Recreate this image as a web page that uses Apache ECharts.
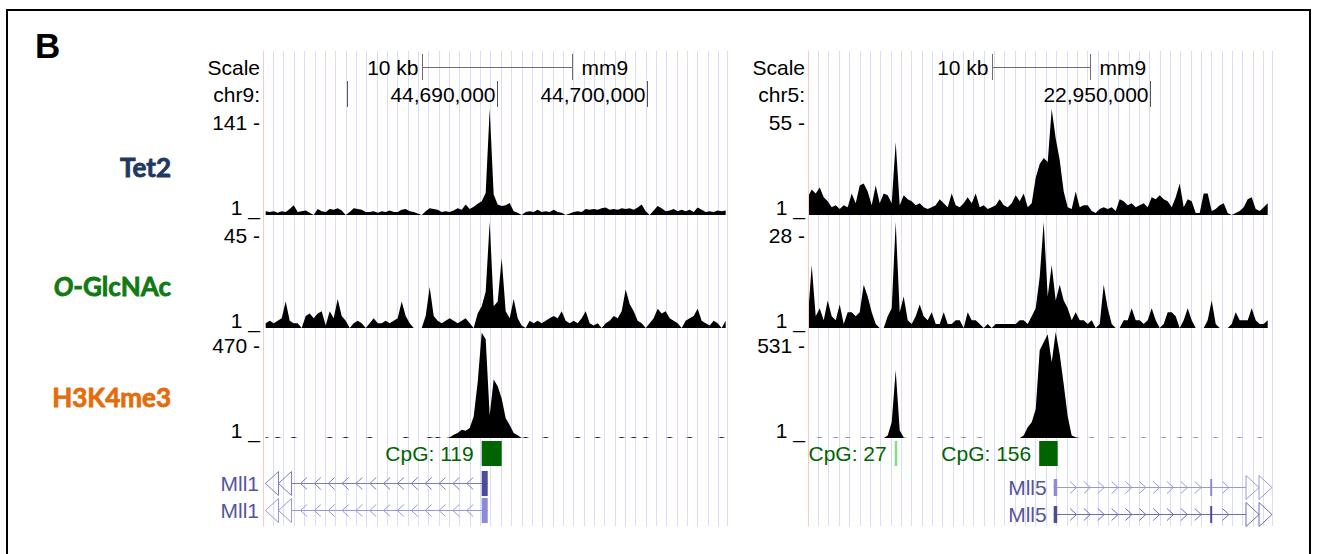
<!DOCTYPE html>
<html>
<head>
<meta charset="utf-8">
<script src="https://cdn.jsdelivr.net/npm/echarts@6/dist/echarts.min.js"></script>
<style>
html,body{margin:0;padding:0;background:#ffffff;}
#chart{width:1317px;height:554px;}
</style>
</head>
<body>
<div id="chart"></div>
<script>
// ================= DATA =================
const panelLetter = 'B';
const trackNames = ['Tet2', 'O-GlcNAc', 'H3K4me3'];
const trackItalicPrefix = ['', 'O', ''];
const scaleTitle = 'Scale';
const scaleLabel = '10 kb';
const assembly = 'mm9';

// ---- left locus (chr9) ----
const leftChrom = 'chr9:';
const leftRange = [44674400, 44705293];
const leftTicks = [44680000, 44690000, 44700000];
const leftTickLabels = ['', '44,690,000', '44,700,000'];
const leftScaleBar = [44685033, 44695033];
const leftMax = [141, 45, 470];
const leftBinStart = 44674580;
const leftBinSize = 266.3;
const leftTet2 = [
  6,5,6,4,6,5,9,14,5,6,
  7,4,1,9,6,5,9,8,10,7,
  1,5,10,9,8,5,5,6,4,6,
  5,7,5,5,8,9,6,5,3,1,
  6,10,9,8,5,6,5,7,10,8,
  15,9,12,16,19,30,141,28,15,13,
  14,17,6,4,1,5,6,5,8,5,
  6,5,8,5,4,1,3,5,6,5,
  9,8,9,8,10,11,8,9,8,10,
  9,10,8,11,15,6,1,7,13,10,
  6,7,9,6,8,6,8,5,11,8,
  5,6,5,7,6,7
];
const leftGlcNAc = [
  3,4,3,4,5,12,4,3,3,1,
  6,7,5,7,8,2,8,5,13,6,
  4,1,3,4,3,1,3,5,3,3,
  4,3,4,5,12,6,3,1,1,1,
  6,18,6,4,3,4,5,4,3,4,
  5,3,1,7,10,16,45,10,12,30,
  8,5,13,5,2,1,4,3,4,3,
  4,5,6,5,8,4,3,4,3,5,
  8,3,2,3,1,3,4,6,5,8,
  17,11,8,4,3,1,3,5,9,7,
  8,5,4,3,1,4,5,6,9,4,
  3,2,4,3,1,4
];
const leftH3K4me3 = [
  5,1,1,5,1,1,1,5,1,1,
  1,1,1,1,1,1,5,1,1,1,
  5,1,1,1,1,1,5,1,1,1,
  1,1,1,1,1,5,1,1,1,1,
  1,5,1,5,1,1,4,15,23,37,
  33,45,96,248,467,438,100,260,230,176,
  88,59,23,13,1,5,1,1,1,1,
  5,1,1,1,1,1,1,1,5,1,
  1,1,1,5,1,1,1,1,1,5,
  1,1,5,1,1,5,1,1,1,1,
  1,5,1,1,1,1,5,1,1,1,
  1,1,1,1,5,1
];
const leftCpGNames = ['CpG: 119'];
const leftCpGSpans = [[44688961, 44690293]];
const leftCpGShade = ['high'];
const leftGeneNames = ['Mll1', 'Mll1'];
const leftGeneSpans = [[44600000, 44689361], [44600000, 44689361]];
const leftGeneStrands = ['-', '-'];
const leftGeneExons = [[[44688961, 44689361, 1]], [[44688961, 44689361, 1]]];

// ---- right locus (chr5) ----
const rightChrom = 'chr5:';
const rightRange = [22915270, 22962320];
const rightTicks = [22950000];
const rightTickLabels = ['22,950,000'];
const rightScaleBar = [22933958, 22943958];
const rightMax = [55, 28, 531];
const rightBinStart = 22915240;
const rightBinSize = 405.6;
const rightTet2 = [
  10,14,12,15,10,8,5,6,4,6,
  5,12,7,16,17,13,6,16,7,12,
  11,7,38,6,11,9,8,6,7,5,
  4,5,6,9,7,5,12,6,5,7,
  10,7,12,5,6,4,5,6,9,6,
  5,7,11,8,12,5,7,20,27,30,
  28,55,40,29,13,5,4,13,5,6,
  6,3,2,4,5,4,5,3,9,8,
  6,7,5,6,7,5,10,9,11,9,
  8,5,10,17,5,9,8,2,2,12,
  12,3,4,6,7,2,1,2,3,5,
  9,10,4,3,5,7
];
const rightGlcNAc = [
  3,17,4,6,3,8,4,3,7,2,
  5,5,4,5,12,9,5,2,1,1,
  4,6,28,5,9,3,2,4,7,4,
  3,5,2,2,5,2,2,3,3,1,
  5,3,3,2,1,2,1,2,2,2,
  2,2,2,3,3,2,4,6,14,28,
  9,17,8,12,8,6,3,5,3,3,
  2,3,1,2,12,6,2,1,1,3,
  3,6,3,3,2,3,6,3,1,2,
  5,5,4,1,3,6,3,1,1,1,
  3,8,2,1,1,1,2,5,3,3,
  3,6,3,2,2,3
];
const rightH3K4me3 = [
  1,1,1,4,1,1,1,4,1,1,
  4,1,1,1,4,1,4,1,1,1,
  14,80,340,40,4,1,1,1,4,1,
  1,4,1,1,1,4,1,1,1,4,
  1,1,1,4,1,1,1,1,1,1,
  1,1,1,1,14,55,80,145,440,480,
  520,380,531,420,270,110,14,5,1,1,
  1,4,1,1,1,1,4,1,1,4,
  1,1,1,1,4,1,1,1,1,4,
  1,1,1,4,1,1,1,4,1,1,
  1,1,4,1,1,1,1,1,4,1,
  1,1,1,4,1,1
];
const rightCpGNames = ['CpG: 27', 'CpG: 156'];
const rightCpGSpans = [[22924061, 22924315], [22938714, 22940590]];
const rightCpGShade = ['low', 'high'];
const rightGeneNames = ['Mll5', 'Mll5'];
const rightGeneSpans = [[22940184, 22990000], [22940184, 22990000]];
const rightGeneStrands = ['+', '+'];
const rightGeneExons = [
  [[22940184, 22940540, 0], [22956053, 22956205, 0]],
  [[22940184, 22940540, 0], [22956053, 22956205, 0]]
];

// ================= STYLE / LAYOUT =================
const FONT = '"Liberation Sans", Arial, Helvetica, sans-serif';
const FS = 21;
const NAME_FONT = 'Lato, "Open Sans", sans-serif';
const PANEL_LEFT = [263, 808];
const PANEL_W = 464;
const GUIDE_TOP = 51, GUIDE_H = 475;
const SCALE_TOP = 54, SCALE_H = 26;
const CHR_TOP = 81, CHR_H = 26;
const TRACK_TOP = [109, 222, 332], TRACK_H = 106;
const CPG_TOP = 441, CPG_H = 25;
const GENE_TOPS = [[471, 498], [475, 502]], GENE_H = 25;
const GUIDE_STEP_PX = 10.35;
const CHEVRON_STEP_PX = 13.85;
const nameColors = ['#1f3864', '#127a12', '#e46c0a'];
const nameY = [167, 286, 397];
const nameRight = 171;
const cpgColors = {high: '#006400', low: '#80e080'};
const cpgTextColor = '#006400';
const geneRowColors = [
  [{exon: '#4b4b9b', line: '#7b7bc4'}, {exon: '#8a8ad8', line: '#9898da'}],
  [{exon: '#8a8ad8', line: '#9898da'}, {exon: '#4b4b9b', line: '#6c6cb8'}]
];
const geneTextColor = '#55559f';

function crisp(v) { return Math.round(v - 0.5) + 0.5; }
function txt(extra) { return Object.assign({fontSize: FS, fontFamily: FONT, fill: '#000'}, extra); }

const panels = [
  {range: leftRange, chrom: leftChrom, ticks: leftTicks, tickLabels: leftTickLabels, scaleBar: leftScaleBar,
   maxes: leftMax, binStart: leftBinStart, binSize: leftBinSize, tracks: [leftTet2, leftGlcNAc, leftH3K4me3],
   cpgNames: leftCpGNames, cpgSpans: leftCpGSpans, cpgShade: leftCpGShade,
   geneNames: leftGeneNames, geneSpans: leftGeneSpans, geneStrands: leftGeneStrands, geneExons: leftGeneExons},
  {range: rightRange, chrom: rightChrom, ticks: rightTicks, tickLabels: rightTickLabels, scaleBar: rightScaleBar,
   maxes: rightMax, binStart: rightBinStart, binSize: rightBinSize, tracks: [rightTet2, rightGlcNAc, rightH3K4me3],
   cpgNames: rightCpGNames, cpgSpans: rightCpGSpans, cpgShade: rightCpGShade,
   geneNames: rightGeneNames, geneSpans: rightGeneSpans, geneStrands: rightGeneStrands, geneExons: rightGeneExons}
];

const grids = [], xAxis = [], yAxis = [], series = [];
function hiddenX(range) { return {type: 'value', min: range[0], max: range[1], show: false}; }
function hiddenY() { return {type: 'value', min: 0, max: 1, show: false}; }
function addGrid(box, xa, ya) {
  const gi = grids.length;
  grids.push(Object.assign({outerBoundsMode: 'none', containLabel: false, show: false}, box));
  xa.gridIndex = gi; ya.gridIndex = gi;
  xAxis.push(xa); yAxis.push(ya);
  return {xi: xAxis.length - 1, yi: yAxis.length - 1};
}

panels.forEach((P, p) => {
  const L = PANEL_LEFT[p];

  // guidelines + left red line
  addGrid({left: L, top: GUIDE_TOP, width: PANEL_W, height: GUIDE_H},
    {type: 'value', min: 0, max: PANEL_W / GUIDE_STEP_PX, interval: 1,
     axisLine: {show: false}, axisTick: {show: false}, axisLabel: {show: false},
     splitLine: {show: true, lineStyle: {color: '#dcdcf8', width: 1}}},
    {type: 'value', min: 0, max: 1, z: 3,
     axisLine: {show: true, onZero: false, lineStyle: {color: '#ffc6c6', width: 1}},
     axisTick: {show: false}, axisLabel: {show: false}, splitLine: {show: false}});

  // scale bar row
  const sc = addGrid({left: L, top: SCALE_TOP, width: PANEL_W, height: SCALE_H}, hiddenX(P.range), hiddenY());
  series.push({
    type: 'custom', coordinateSystem: 'cartesian2d', xAxisIndex: sc.xi, yAxisIndex: sc.yi,
    clip: false, silent: true, animation: false,
    data: [[P.scaleBar[0], P.scaleBar[1]]],
    renderItem: (params, api) => {
      const cs = params.coordSys;
      const x0 = crisp(api.coord([api.value(0), 0])[0]);
      const x1 = crisp(api.coord([api.value(1), 0])[0]);
      const ym = crisp(cs.y + cs.height / 2);
      const st = {stroke: '#6e6e6e', lineWidth: 1};
      return {type: 'group', children: [
        {type: 'line', shape: {x1: x0, y1: ym, x2: x1, y2: ym}, style: st},
        {type: 'line', shape: {x1: x0, y1: cs.y, x2: x0, y2: cs.y + cs.height}, style: st},
        {type: 'line', shape: {x1: x1, y1: cs.y, x2: x1, y2: cs.y + cs.height}, style: st},
        {type: 'text', x: x0 - 4, y: ym, style: txt({text: scaleLabel, align: 'right', verticalAlign: 'middle'})},
        {type: 'text', x: x1 + 9, y: ym, style: txt({text: assembly, align: 'left', verticalAlign: 'middle'})},
        {type: 'text', x: cs.x - 3, y: ym, style: txt({text: scaleTitle, align: 'right', verticalAlign: 'middle'})}
      ]};
    }
  });

  // chromosome position row
  const cr = addGrid({left: L, top: CHR_TOP, width: PANEL_W, height: CHR_H}, hiddenX(P.range), hiddenY());
  series.push({
    type: 'custom', coordinateSystem: 'cartesian2d', xAxisIndex: cr.xi, yAxisIndex: cr.yi,
    clip: false, silent: true, animation: false,
    data: P.ticks.map(t => [t, 0.5]),
    renderItem: (params, api) => {
      const cs = params.coordSys;
      const x = crisp(api.coord([api.value(0), 0])[0]);
      const ym = cs.y + cs.height / 2;
      const ch = [];
      if (x >= cs.x && x <= cs.x + cs.width) {
        ch.push({type: 'line', shape: {x1: x, y1: cs.y, x2: x, y2: cs.y + cs.height}, style: {stroke: '#555', lineWidth: 1}});
        const lab = P.tickLabels[params.dataIndex];
        if (lab) ch.push({type: 'text', x: x - 2, y: ym, style: txt({text: lab, align: 'right', verticalAlign: 'middle'})});
      }
      if (params.dataIndex === 0) {
        ch.push({type: 'text', x: cs.x - 3, y: ym, style: txt({text: P.chrom, align: 'right', verticalAlign: 'middle'})});
      }
      return {type: 'group', children: ch};
    }
  });

  // signal tracks
  P.tracks.forEach((vals, t) => {
    const M = P.maxes[t];
    const g = addGrid({left: L, top: TRACK_TOP[t], width: PANEL_W, height: TRACK_H},
      hiddenX(P.range),
      {type: 'value', min: 1, max: M, interval: M - 1,
       axisLine: {show: false}, axisTick: {show: false}, splitLine: {show: false},
       axisLabel: {show: true, margin: 3, showMinLabel: true, showMaxLabel: true,
         formatter: v => (v >= M - 0.5 ? '{t|' + M + ' -}' : '{b|1 _}'),
         rich: {
           t: {fontSize: FS, fontFamily: FONT, color: '#000', padding: [26, 0, 0, 0]},
           b: {fontSize: FS, fontFamily: FONT, color: '#000', padding: [0, 0, 16, 0]}
         }}});
    series.push({
      type: 'line', xAxisIndex: g.xi, yAxisIndex: g.yi, silent: true, animation: false,
      showSymbol: false, symbol: 'none', clip: true,
      data: vals.map((v, i) => [P.binStart + i * P.binSize, v]),
      lineStyle: {width: 0},
      areaStyle: {color: '#000', opacity: 1, origin: 'start'}
    });
  });

  // CpG islands
  const cg = addGrid({left: L, top: CPG_TOP, width: PANEL_W, height: CPG_H}, hiddenX(P.range), hiddenY());
  series.push({
    type: 'custom', coordinateSystem: 'cartesian2d', xAxisIndex: cg.xi, yAxisIndex: cg.yi,
    clip: false, silent: true, animation: false,
    data: P.cpgSpans.map(s => [s[0], s[1]]),
    renderItem: (params, api) => {
      const cs = params.coordSys;
      const x0 = api.coord([api.value(0), 0])[0];
      const x1 = api.coord([api.value(1), 0])[0];
      const i = params.dataIndex;
      return {type: 'group', children: [
        {type: 'rect', shape: {x: x0, y: cs.y, width: Math.max(x1 - x0, 2), height: cs.height},
         style: {fill: cpgColors[P.cpgShade[i]]}},
        {type: 'text', x: x0 - 8, y: cs.y + cs.height / 2,
         style: txt({text: P.cpgNames[i], fill: cpgTextColor, align: 'right', verticalAlign: 'middle'})}
      ]};
    }
  });

  // gene rows
  P.geneNames.forEach((gname, r) => {
    const gg = addGrid({left: L, top: GENE_TOPS[p][r], width: PANEL_W, height: GENE_H}, hiddenX(P.range), hiddenY());
    series.push({
      type: 'custom', coordinateSystem: 'cartesian2d', xAxisIndex: gg.xi, yAxisIndex: gg.yi,
      clip: false, silent: true, animation: false,
      data: [[P.geneSpans[r][0], P.geneSpans[r][1]]],
      renderItem: (params, api) => {
        const cs = params.coordSys;
        const xs = api.coord([api.value(0), 0])[0];
        const xe = api.coord([api.value(1), 0])[0];
        const left = cs.x, right = cs.x + cs.width;
        const ym = crisp(cs.y + cs.height / 2);
        const col = geneRowColors[p][r];
        const strand = P.geneStrands[r];
        const exons = P.geneExons[r].map(e => [api.coord([e[0], 0])[0], api.coord([e[1], 0])[0], e[2]]);
        const ch = [];
        const offL = xs < left, offR = xe > right;
        let ls = Math.max(xs, left), le = Math.min(xe, right);
        const TW = 13, TH = 12;
        const lineSt = {fill: 'none', stroke: col.line, lineWidth: 1};
        if (offL) {
          for (let k = 0; k < 2; k++) {
            const ax = left + 2.5 + TW * k, bx = ax + TW;
            ch.push({type: 'polygon', shape: {points: [[bx, ym - TH], [ax, ym], [bx, ym + TH]]}, style: lineSt});
          }
          ls = left + 2.5 + 2 * TW;
        }
        if (offR) {
          for (let k = 0; k < 2; k++) {
            const ax = right - TW * k, bx = ax - TW;
            ch.push({type: 'polygon', shape: {points: [[bx, ym - TH], [ax, ym], [bx, ym + TH]]}, style: lineSt});
          }
          le = right - 2 * TW;
        }
        ch.push({type: 'line', shape: {x1: ls, y1: ym, x2: le, y2: ym}, style: {stroke: col.line, lineWidth: 1}});
        const dir = strand === '-' ? 1 : -1;
        for (let x = ls + 9; x < le - 4; x += CHEVRON_STEP_PX) {
          const xb = x + 6.5 * dir;
          const lo = Math.min(x, xb), hi = Math.max(x, xb);
          if (exons.some(e => hi > e[0] - 3 && lo < e[1] + 3)) continue;
          ch.push({type: 'polyline', shape: {points: [[xb, ym - 6], [x, ym], [xb, ym + 6]]}, style: lineSt});
        }
        exons.forEach(e => {
          const h = e[2] ? cs.height : Math.round(cs.height * 0.68);
          ch.push({type: 'rect', shape: {x: e[0], y: ym - h / 2, width: Math.max(e[1] - e[0], 2), height: h},
                   style: {fill: col.exon}});
        });
        const lx = offL ? left - 4 : xs - 7;
        ch.push({type: 'text', x: lx, y: ym,
                 style: txt({text: gname, fill: geneTextColor, align: 'right', verticalAlign: 'middle'})});
        return {type: 'group', children: ch};
      }
    });
  });
});

// ---- decorations: frame, panel letter, track names ----
const graphic = [
  {type: 'rect', silent: true, shape: {x: 7, y: 10, width: 1303, height: 570},
   style: {fill: 'none', stroke: '#000', lineWidth: 2}},
  {type: 'text', silent: true, x: 35, y: 45,
   style: {text: panelLetter, fontSize: 35, fontWeight: 'bold', fontFamily: FONT, fill: '#000', verticalAlign: 'middle'}}
];
trackNames.forEach((n, t) => {
  const pre = trackItalicPrefix[t];
  const base = {fontSize: 26, fontWeight: 'bold', fontFamily: NAME_FONT, fill: nameColors[t],
                stroke: nameColors[t], lineWidth: 0.8};
  const style = Object.assign({}, base, {align: 'right', verticalAlign: 'middle'});
  if (pre) {
    style.text = '{i|' + pre + '}{n|' + n.slice(pre.length) + '}';
    style.rich = {
      i: Object.assign({}, base, {fontStyle: 'italic'}),
      n: Object.assign({}, base)
    };
  } else {
    style.text = n;
  }
  graphic.push({type: 'text', silent: true, x: nameRight, y: nameY[t], style: style});
});

const chart = echarts.init(document.getElementById('chart'), null, {renderer: 'svg', width: 1317, height: 554});
chart.setOption({
  animation: false,
  backgroundColor: '#ffffff',
  grid: grids,
  xAxis: xAxis,
  yAxis: yAxis,
  series: series,
  graphic: graphic
});
</script>
</body>
</html>
